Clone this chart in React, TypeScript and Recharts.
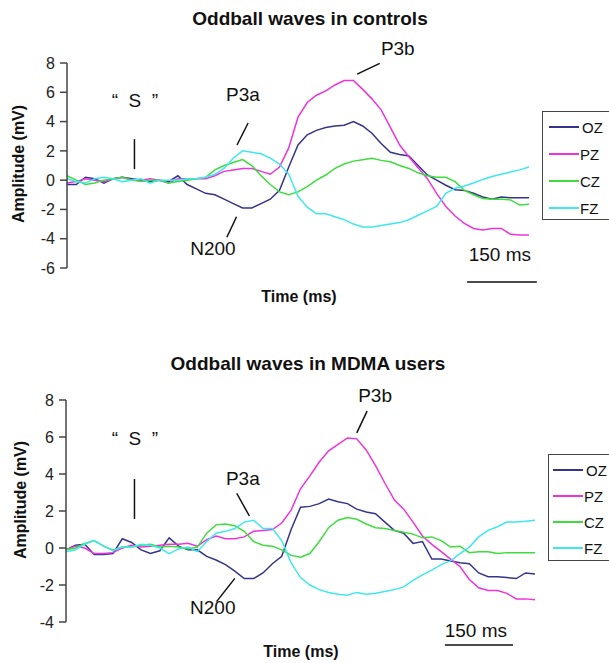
import React from 'react';
import { LineChart, Line, XAxis, YAxis, ReferenceLine, ReferenceDot } from 'recharts';

// time (ms) of each sample, stimulus at 0
const times = [
  -150, -130, -110, -90, -70, -50, -30, -10, 10, 30, 50, 70, 90, 110, 130, 150, 170,
  190, 210, 230, 250, 270, 290, 310, 330, 350, 370, 390, 410, 430, 450, 470, 490,
  510, 530, 550, 570, 590, 610, 630, 650, 670, 690, 710, 730, 750, 770, 790, 810, 830, 850,
];

const channels = ['OZ', 'PZ', 'CZ', 'FZ'];
const channelColors = ['#34348c', '#ee33dd', '#3ddd3d', '#3ee8ee'];

// controls
const ctrlOZ = [
  -0.3, -0.3, 0.2, 0.1, -0.2, 0.1, 0.2, 0.1, 0.0, -0.1, 0.0, -0.1, 0.3, -0.3, -0.6, -0.9, -1.0,
  -1.3, -1.6, -1.9, -1.9, -1.6, -1.3, -0.7, 0.9, 2.4, 3.1, 3.4, 3.6, 3.7, 3.75, 4.0, 3.7,
  3.2, 2.5, 1.9, 1.75, 1.65, 1.0, 0.35, 0.0, -0.35, -0.65, -0.7, -0.9, -1.15, -1.3, -1.15, -1.2, -1.2, -1.2,
];
const ctrlPZ = [
  -0.2, -0.1, 0.1, 0.0, -0.1, 0.1, 0.2, 0.0, 0.0, 0.1, 0.0, -0.2, 0.1, 0.1, 0.1, 0.1, 0.3,
  0.6, 0.7, 0.8, 0.8, 0.6, 0.4, 0.9, 2.2, 4.3, 5.3, 5.8, 6.1, 6.5, 6.8, 6.8, 6.2,
  5.55, 4.8, 3.6, 2.4, 1.6, 0.85, 0.1, -0.9, -1.8, -2.45, -2.95, -3.3, -3.4, -3.3, -3.3, -3.7, -3.75, -3.75,
];
const ctrlCZ = [
  0.3, 0.0, -0.3, -0.2, 0.0, 0.1, 0.2, 0.0, -0.1, 0.0, 0.0, -0.2, -0.1, 0.0, 0.1, 0.2, 0.7,
  1.0, 1.2, 1.4, 1.0, 0.3, -0.3, -0.8, -1.0, -0.8, -0.45, 0.0, 0.35, 0.8, 1.1, 1.3, 1.4,
  1.5, 1.35, 1.25, 1.0, 0.8, 0.5, 0.3, 0.2, 0.2, -0.1, -0.7, -1.0, -1.25, -1.3, -1.3, -1.35, -1.7, -1.65,
];
const ctrlFZ = [
  0.1, -0.1, -0.2, 0.1, 0.2, 0.1, -0.1, 0.0, 0.1, -0.2, 0.0, 0.0, 0.0, 0.1, 0.1, 0.2, 0.4,
  0.8, 1.5, 2.0, 1.9, 1.8, 1.5, 1.1, 0.4, -1.1, -1.85, -2.3, -2.3, -2.5, -2.7, -3.0, -3.2,
  -3.2, -3.1, -3.0, -2.9, -2.7, -2.4, -2.1, -1.8, -0.9, -0.55, -0.4, -0.2, 0.05, 0.25, 0.4, 0.55, 0.7, 0.9,
];

// MDMA users
const mdmaOZ = [
  -0.1, 0.15, 0.2, -0.35, -0.35, -0.3, 0.5, 0.3, -0.1, -0.3, -0.15, 0.55, 0.1, -0.1, -0.1, -0.45, -0.65,
  -0.9, -1.25, -1.65, -1.65, -1.35, -0.85, -0.45, 1.0, 2.2, 2.25, 2.4, 2.65, 2.5, 2.4, 2.1, 1.95,
  1.85, 1.4, 0.95, 0.8, 0.25, 0.35, -0.6, -0.6, -0.7, -0.8, -0.85, -1.35, -1.55, -1.55, -1.6, -1.65, -1.35, -1.4,
];
const mdmaPZ = [
  -0.1, 0.1, 0.0, -0.3, -0.3, -0.25, 0.0, 0.15, 0.05, 0.1, 0.15, 0.2, 0.2, 0.25, 0.1, 0.45, 0.65,
  0.5, 0.5, 0.6, 0.9, 0.95, 1.0, 1.35, 2.05, 3.2, 3.9, 4.65, 5.25, 5.6, 5.95, 5.9, 5.3,
  4.45, 3.5, 2.6, 2.1, 1.4, 0.65, 0.2, -0.2, -0.6, -1.0, -1.7, -2.15, -2.3, -2.3, -2.45, -2.75, -2.75, -2.8,
];
const mdmaCZ = [
  -0.1, 0.0, 0.25, 0.4, 0.1, -0.1, 0.05, 0.05, 0.15, 0.2, 0.05, 0.1, 0.05, -0.05, 0.05, 0.8, 1.25,
  1.3, 1.2, 0.9, 0.35, 0.15, 0.1, -0.1, -0.4, -0.5, -0.3, 0.35, 1.1, 1.5, 1.65, 1.55, 1.3,
  1.1, 1.05, 0.95, 0.85, 0.75, 0.55, 0.6, 0.4, 0.05, 0.1, -0.25, -0.2, -0.2, -0.3, -0.25, -0.25, -0.25, -0.25,
];
const mdmaFZ = [
  -0.2, -0.1, 0.2, 0.4, 0.1, -0.15, 0.05, 0.05, 0.2, 0.15, 0.0, -0.3, -0.05, 0.05, -0.2, 0.35, 0.8,
  0.9, 1.05, 1.4, 1.5, 1.05, 1.05, 0.4, -0.8, -1.6, -2.0, -2.25, -2.4, -2.5, -2.55, -2.4, -2.5,
  -2.45, -2.35, -2.25, -2.1, -1.75, -1.45, -1.2, -0.9, -0.7, -0.3, 0.05, 0.6, 0.95, 1.15, 1.4, 1.4, 1.45, 1.5,
];

const ctrlTicks = [-6, -4, -2, 0, 2, 4, 6, 8];
const mdmaTicks = [-4, -2, 0, 2, 4, 6, 8];

// annotations in (ms, mV)
const ctrlNotes = [
  { text: '“\u00A0\u00A0S\u00A0\u00A0”', t: -3, v: 5.46 },
  { text: 'P3a', t: 231, v: 5.87 },
  { text: 'P3b', t: 566, v: 9.0 },
  { text: 'N200', t: 166, v: -4.64 },
  { text: '150 ms', t: 787, v: -5.05 },
];
const ctrlMarks = [
  [-4, 2.8, -4, 0.75],
  [242, 3.9, 218, 2.4],
  [527, 7.97, 478, 7.24],
  [217, -2.5, 196, -3.9],
  [716, -6.96, 867, -6.96],
];
const mdmaNotes = [
  { text: '“\u00A0\u00A0S\u00A0\u00A0”', t: -3, v: 5.95 },
  { text: 'P3a', t: 227, v: 3.78 },
  { text: 'P3b', t: 509, v: 8.27 },
  { text: 'N200', t: 163, v: -3.19 },
  { text: '150 ms', t: 724, v: -4.43 },
];
const mdmaMarks = [
  [-4, 3.73, -4, 1.57],
  [214, 2.96, 241, 1.73],
  [492, 7.4, 470, 6.22],
  [210, -1.64, 171, -2.9],
  [658, -5.24, 803, -5.24],
];

const FONT = '"Liberation Sans", Arial, sans-serif';

const makeRows = (oz: number[], pz: number[], cz: number[], fz: number[]) =>
  times.map((t, i) => ({ t, OZ: oz[i], PZ: pz[i], CZ: cz[i], FZ: fz[i] }));

const Txt = ({ x, y, size, bold, rotate, children }: any) => (
  <div
    style={{
      position: 'absolute',
      left: x,
      top: y,
      transform: `translate(-50%, -50%)${rotate ? ` rotate(${rotate}deg)` : ''}`,
      whiteSpace: 'nowrap',
      fontSize: size,
      fontWeight: bold ? 'bold' : 'normal',
      color: '#111',
      lineHeight: 1,
    }}
  >
    {children}
  </div>
);

// legend box runs off the right edge, as in the original figure
const LegendBox = ({ x, y, h, step, pad }: any) => (
  <div
    style={{
      position: 'absolute',
      left: x,
      top: y,
      width: 90,
      height: h,
      border: '1.5px solid #444',
      boxSizing: 'border-box',
    }}
  >
    {channels.map((c, i) => (
      <div
        key={c}
        style={{ position: 'absolute', left: pad, top: 15 + i * step - 8, height: 16, display: 'flex', alignItems: 'center' }}
      >
        <div style={{ width: 30, height: 2, background: channelColors[i] }} />
        <span style={{ fontSize: 15, marginLeft: c === 'OZ' ? 3 : 1, color: '#111' }}>{c}</span>
      </div>
    ))}
  </div>
);

const Waves = ({ rows, ticks, domain, notes, marks, height, margin }: any) => (
  <LineChart width={609} height={height} data={rows} margin={margin}>
    <XAxis type="number" dataKey="t" domain={[-150, 850]} hide />
    <YAxis
      type="number"
      domain={domain}
      ticks={ticks}
      width={40}
      tickSize={7}
      tickMargin={5}
      axisLine={{ stroke: '#444', strokeWidth: 1.5 }}
      tickLine={{ stroke: '#444', strokeWidth: 1.5 }}
      tick={{ fontSize: 16, fill: '#222', fontFamily: FONT }}
    />
    {channels.map((c, i) => (
      <Line
        key={c}
        type="linear"
        dataKey={c}
        stroke={channelColors[i]}
        strokeWidth={1.5}
        dot={false}
        isAnimationActive={false}
      />
    ))}
    {marks.map((m: number[], i: number) => (
      <ReferenceLine
        key={'m' + i}
        segment={[{ x: m[0], y: m[1] }, { x: m[2], y: m[3] }]}
        stroke="#111"
        strokeWidth={1.5}
        ifOverflow="visible"
      />
    ))}
    {notes.map((n: any, i: number) => (
      <ReferenceDot
        key={'n' + i}
        x={n.t}
        y={n.v}
        r={0}
        fill="none"
        stroke="none"
        ifOverflow="visible"
        label={{ value: n.text, position: 'center', fill: '#111', fontSize: 19, fontFamily: FONT }}
      />
    ))}
  </LineChart>
);

export default function App() {
  return (
    <div
      style={{
        position: 'absolute',
        left: 0,
        top: 0,
        width: 609,
        height: 663,
        overflow: 'hidden',
        background: '#fff',
        fontFamily: FONT,
      }}
    >
      <div style={{ position: 'absolute', left: 0, top: 0 }}>
        <Waves
          rows={makeRows(ctrlOZ, ctrlPZ, ctrlCZ, ctrlFZ)}
          ticks={ctrlTicks}
          domain={[-6, 8]}
          notes={ctrlNotes}
          marks={ctrlMarks}
          height={310}
          margin={{ top: 63, right: 80, bottom: 42, left: 27 }}
        />
      </div>
      <Txt x={310} y={18} size={19} bold>Oddball waves in controls</Txt>
      <Txt x={19} y={164} size={16} bold rotate={-90}>Amplitude (mV)</Txt>
      <Txt x={299} y={297} size={16} bold>Time (ms)</Txt>
      <LegendBox x={542} y={111} h={109} step={27} pad={6} />

      <div style={{ position: 'absolute', left: 0, top: 330 }}>
        <Waves
          rows={makeRows(mdmaOZ, mdmaPZ, mdmaCZ, mdmaFZ)}
          ticks={mdmaTicks}
          domain={[-4, 8]}
          notes={mdmaNotes}
          marks={mdmaMarks}
          height={333}
          margin={{ top: 70, right: 74, bottom: 41, left: 26 }}
        />
      </div>
      <Txt x={308} y={363} size={19} bold>Oddball waves in MDMA users</Txt>
      <Txt x={21} y={500} size={16} bold rotate={-90}>Amplitude (mV)</Txt>
      <Txt x={301} y={652} size={16} bold>Time (ms)</Txt>
      <LegendBox x={548} y={454} h={107} step={26} pad={4} />
    </div>
  );
}
